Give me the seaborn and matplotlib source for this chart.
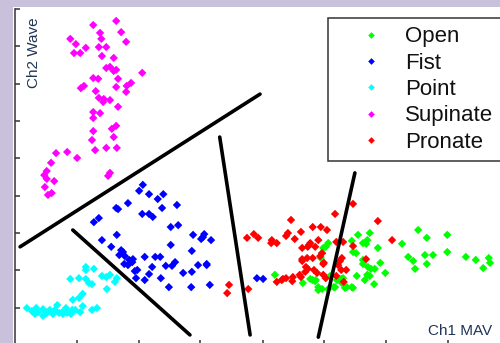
import matplotlib
matplotlib.use("Agg")
import matplotlib.pyplot as plt
from matplotlib.patches import Rectangle
import pandas as pd
import seaborn as sns

# Feature space: channel 1 mean absolute value vs channel 2 waveform length
open_mav = [5.54, 5.73, 6.51, 6.65, 6.98, 5.06, 5.02, 5.44, 5.62, 5.69, 5.86, 6.25, 5.46, 4.96, 4.94,
            5.62, 5.90, 6.35, 6.43, 6.62, 6.75, 6.98, 7.28, 7.44, 7.65, 7.67, 7.56, 6.65, 6.46, 5.62,
            5.75, 5.81, 5.52, 5.73, 5.98, 5.65, 5.80, 5.46, 5.33, 5.28, 5.17, 5.20, 4.86, 4.81, 4.90,
            5.06, 4.20, 4.65, 5.09, 5.67, 5.70, 5.69, 5.27, 4.77, 4.85, 4.90, 4.96, 5.15, 5.36, 5.44,
            5.30, 5.51, 4.98]
open_wave = [2.95, 3.00, 3.08, 2.87, 2.95, 2.73, 2.63, 2.79, 2.73, 2.81, 2.60, 2.71, 2.49, 2.46, 2.33,
             2.28, 2.20, 2.36, 2.25, 2.41, 2.41, 2.49, 2.36, 2.28, 2.33, 2.20, 2.06, 2.17, 2.04, 2.17,
             2.04, 2.04, 1.85, 1.85, 1.93, 1.74, 1.63, 1.53, 1.53, 1.66, 1.55, 1.74, 1.74, 1.74, 1.55,
             1.50, 1.88, 1.66, 1.85, 2.71, 2.09, 1.88, 1.77, 1.77, 1.71, 1.47, 1.50, 1.55, 1.55, 1.55,
             1.79, 2.46, 2.60]

fist_mav = [2.07, 2.01, 2.17, 2.40, 2.31, 1.83, 1.64, 1.67, 2.38, 2.62, 2.06, 2.17, 2.23, 1.36, 1.28,
            2.52, 2.64, 1.65, 2.88, 3.06, 3.01, 3.17, 1.41, 1.56, 1.72, 1.75, 2.52, 2.86, 1.69, 1.78,
            1.85, 1.91, 1.77, 2.10, 2.27, 2.35, 2.59, 1.98, 1.94, 2.22, 2.44, 2.54, 2.96, 3.10, 2.72,
            2.86, 2.17, 1.96, 2.10, 2.36, 2.49, 2.85, 3.15, 1.83, 1.90, 3.10, 3.91, 4.01, 3.04]
fist_wave = [4.29, 4.13, 4.04, 4.04, 3.91, 3.80, 3.67, 3.64, 3.67, 3.75, 3.51, 3.51, 3.43, 3.40, 3.29,
             3.16, 3.21, 2.95, 2.95, 2.97, 2.84, 2.81, 2.81, 2.63, 2.54, 2.49, 2.68, 2.52, 2.41, 2.38,
             2.28, 2.30, 2.17, 2.36, 2.36, 2.36, 2.22, 2.01, 1.98, 2.09, 2.12, 2.12, 2.14, 2.14, 1.93,
             1.96, 1.90, 1.79, 1.74, 1.79, 1.55, 1.55, 1.61, 2.14, 2.22, 2.17, 1.79, 1.77, 2.89]

point_mav = [1.15, 1.28, 1.15, 0.90, 1.04, 1.15, 1.20, 1.25, 1.41, 1.48, 1.54, 1.65, 1.62, 1.49, 1.10,
             1.04, 0.94, 1.10, 1.33, 1.25, 1.06, 0.93, 0.85, 0.77, 0.69, 0.65, 0.62, 0.52, 0.46, 0.35,
             0.28, 0.20, 0.33, 0.38, 0.78, 0.91, 0.98, 0.83, 0.72, 0.57, 0.46]
point_wave = [2.09, 2.04, 2.01, 1.77, 1.79, 1.77, 1.66, 1.63, 1.85, 1.82, 1.88, 1.79, 1.69, 1.50, 1.37,
              1.26, 1.21, 1.04, 0.99, 0.94, 0.88, 0.94, 0.86, 0.88, 1.07, 0.94, 0.83, 0.86, 0.78, 0.99,
              0.91, 0.99, 0.83, 0.88, 0.83, 0.83, 0.94, 0.99, 0.86, 0.94, 0.96]

supinate_mav = [1.27, 1.64, 1.72, 1.80, 1.38, 1.40, 0.90, 0.99, 1.15, 0.96, 1.06, 1.36, 1.48, 1.41, 1.60,
                1.48, 1.54, 1.60, 1.64, 2.06, 1.27, 1.35, 1.67, 1.88, 1.81, 1.64, 1.80, 1.12, 1.07, 1.31,
                1.36, 1.44, 1.54, 1.43, 1.67, 1.27, 1.38, 1.27, 1.64, 1.57, 1.27, 1.60, 1.25, 1.30, 1.48,
                1.65, 0.67, 0.85, 1.01, 0.59, 0.52, 0.48, 1.54, 1.51, 0.52, 0.64, 0.49, 0.60, 0.54]
supinate_wave = [8.57, 8.68, 8.38, 8.12, 8.36, 8.20, 8.20, 8.06, 7.96, 7.82, 7.82, 7.98, 7.98, 7.74, 7.69,
                 7.42, 7.45, 7.34, 7.37, 7.29, 7.15, 7.13, 7.13, 7.02, 6.94, 6.91, 6.78, 6.94, 6.88, 6.80,
                 6.62, 6.59, 6.56, 6.51, 6.38, 6.24, 6.21, 6.08, 5.87, 5.79, 5.73, 5.57, 5.49, 5.22, 5.28,
                 5.28, 5.14, 5.17, 5.01, 4.88, 4.66, 4.55, 4.61, 4.53, 4.45, 4.39, 4.23, 4.07, 4.02]

pronate_mav = [5.46, 5.17, 4.46, 5.86, 3.75, 3.86, 3.93, 4.15, 4.23, 4.14, 4.38, 4.41, 4.52, 4.62, 4.81,
               4.94, 5.04, 4.90, 4.77, 4.73, 4.64, 4.85, 5.19, 5.30, 5.46, 6.09, 4.64, 4.72, 4.81, 4.93,
               4.99, 4.70, 4.73, 4.69, 4.83, 5.25, 5.28, 5.22, 5.35, 4.88, 4.98, 4.23, 4.31, 4.38, 4.48,
               4.49, 4.62, 5.02, 5.19, 5.31, 3.46, 3.43, 3.77, 5.67, 4.75, 4.96, 4.64, 4.98, 5.27, 4.33,
               4.60]
pronate_wave = [3.78, 3.51, 3.35, 3.32, 2.87, 2.97, 2.87, 2.81, 2.73, 2.73, 2.92, 3.00, 2.84, 3.03, 3.16,
                3.16, 3.08, 2.81, 2.73, 2.63, 2.60, 2.63, 2.76, 2.76, 2.65, 2.81, 2.30, 2.33, 2.33, 2.38,
                2.20, 2.09, 2.04, 1.96, 2.01, 2.25, 2.33, 2.14, 2.01, 1.93, 1.88, 1.69, 1.74, 1.79, 1.71,
                1.82, 1.82, 1.79, 1.85, 1.69, 1.61, 1.39, 1.50, 2.30, 2.68, 2.46, 2.25, 2.17, 2.01, 1.77,
                1.88]

gestures = ["Open", "Fist", "Point", "Supinate", "Pronate"]
gesture_colors = ["#00ff00", "#0000ff", "#00ffff", "#ff00ff", "#ff0000"]

# Hand-drawn class boundaries (start/end in feature units)
boundary_supinate_x = [0.09, 3.96]
boundary_supinate_y = [2.63, 6.72]
boundary_point_x = [0.94, 2.83]
boundary_point_y = [3.08, 0.27]
boundary_fist_x = [3.31, 3.80]
boundary_fist_y = [5.57, 0.27]
boundary_open_x = [5.49, 4.90]
boundary_open_y = [4.61, 0.21]

samples = pd.concat([
    pd.DataFrame({"mav": open_mav, "wave": open_wave, "gesture": "Open"}),
    pd.DataFrame({"mav": fist_mav, "wave": fist_wave, "gesture": "Fist"}),
    pd.DataFrame({"mav": point_mav, "wave": point_wave, "gesture": "Point"}),
    pd.DataFrame({"mav": supinate_mav, "wave": supinate_wave, "gesture": "Supinate"}),
    pd.DataFrame({"mav": pronate_mav, "wave": pronate_wave, "gesture": "Pronate"}),
], ignore_index=True)

sns.set_theme(style="ticks")
plt.rcParams["font.family"] = ["Liberation Sans", "DejaVu Sans"]

W, H = 500, 343
fig = plt.figure(figsize=(W / 100, H / 100), dpi=100, facecolor="#c9c1db")
fig.patches.append(Rectangle((13 / W, 0), 1, 336 / H, transform=fig.transFigure,
                             facecolor="white", edgecolor="none", zorder=-1))
ax = fig.add_axes([14.5 / W, -2 / H, 496 / W, 336 / H])
ax.set_facecolor("white")

sns.scatterplot(data=samples, x="mav", y="wave", hue="gesture", hue_order=gestures,
                palette=dict(zip(gestures, gesture_colors)), marker="D", s=18,
                linewidth=0, ax=ax, zorder=2)

for bx, by in [(boundary_supinate_x, boundary_supinate_y),
               (boundary_point_x, boundary_point_y),
               (boundary_fist_x, boundary_fist_y),
               (boundary_open_x, boundary_open_y)]:
    ax.plot(bx, by, color="black", lw=2.6, solid_capstyle="round", zorder=3)

ax.set_xlim(0, 8)
ax.set_ylim(0, 9)
ax.set_xticks(range(1, 8))
ax.set_yticks(range(1, 10))
ax.tick_params(direction="in", length=3.6, width=1.1, color="#333333",
               labelleft=False, labelbottom=False)
for side in ("top", "right"):
    ax.spines[side].set_visible(False)
for side in ("left", "bottom"):
    ax.spines[side].set_color("#333333")
    ax.spines[side].set_linewidth(1.1)

label_color = "#1f3556"
ax.set_ylabel("Ch2 Wave", fontsize=11, color=label_color)
ax.yaxis.label.set(rotation_mode="anchor", ha="right", va="center")
ax.yaxis.set_label_coords((34 - 14.5) / 496, (345 - 17) / 336)
ax.set_xlabel("Ch1 MAV", fontsize=11, color=label_color)
ax.xaxis.label.set(ha="right", va="baseline")
ax.xaxis.set_label_coords((492 - 14.5) / 496, (345 - 335) / 336)

old = ax.get_legend()
handles = old.legend_handles
labels = [t.get_text() for t in old.get_texts()]
old.remove()
leg = ax.legend(handles, labels, loc="upper left",
                bbox_to_anchor=(328 / W, 1 - 157 / H, (512 - 328) / W, (157 - 18) / H),
                bbox_transform=fig.transFigure, mode="expand", borderaxespad=0,
                fontsize=16, frameon=True, fancybox=False, framealpha=1,
                edgecolor="#333333", handlelength=3.1, handletextpad=0.0,
                borderpad=0.38, labelspacing=0.24, labelcolor="#111111",
                markerscale=0.8)
leg.get_frame().set_linewidth(1.1)
leg.set_zorder(5)

fig.savefig("out.png", dpi=100, facecolor=fig.get_facecolor())
